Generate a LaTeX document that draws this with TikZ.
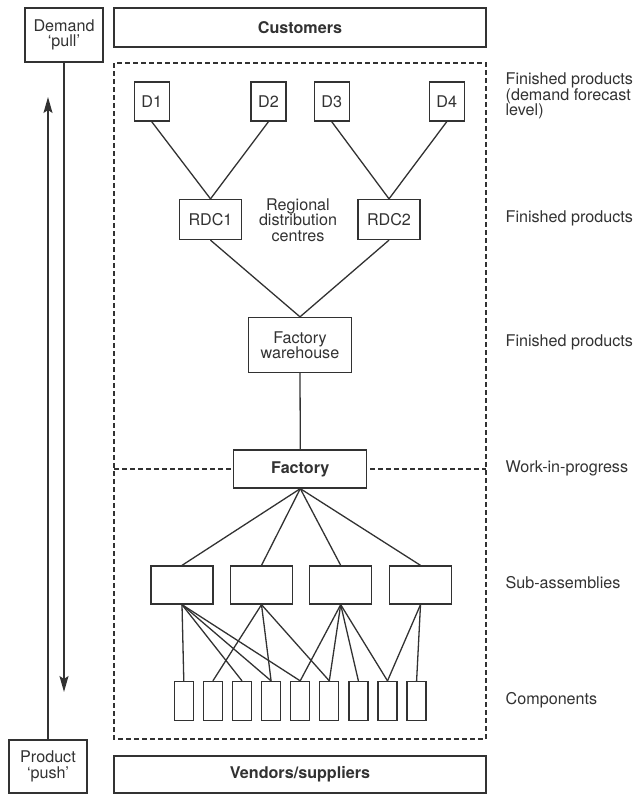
\documentclass[tikz,border=0pt]{standalone}
\usepackage{fontspec}
\setmainfont{TeX Gyre Heros}
\usetikzlibrary{arrows.meta}
\definecolor{mygrey}{RGB}{50,50,50}
\newcommand{\tightfont}{\fontsize{8.1}{7.7}\selectfont\lineskiplimit=-4pt\relax}

\begin{document}
\begin{tikzpicture}[x=0.5bp, y=-0.5bp, line width=0.65bp, color=mygrey,
	font=\tightfont,
	box/.style={draw, fill=white, inner sep=0pt, align=center},
	dbox/.style={box, minimum width=17.5bp, minimum height=19.5bp},
	rdc/.style={box, minimum width=31bp, minimum height=20bp},
	sub/.style={box, minimum width=31bp, minimum height=19bp},
	comp/.style={box, minimum width=9.5bp, minimum height=19.5bp},
	level/.style={anchor=west, align=left, inner sep=0pt},
	push arrow/.style={-{Stealth[length=8bp, width=4.5bp, inset=1.5bp]}}]

\useasboundingbox (0,0) rectangle (639,794);

%---------DASHED FRAME-----------%
\draw [dash pattern=on 2.5bp off 1.5bp] (114,63) rectangle (486,739);
\draw [dash pattern=on 2.5bp off 1.5bp] (114,469) -- (486,469);

%---------OUTER BOXES-----------%
\node [box, minimum width=39bp, minimum height=27bp] (pull) at (64,35) {Demand\\`pull'};
\node [box, minimum width=39bp, minimum height=26.5bp] (push) at (48,766.5) {Product\\`push'};
\node [box, minimum width=186bp, minimum height=19.5bp] (cust) at (300,27.5) {\bfseries Customers};
\node [box, minimum width=186bp, minimum height=18.5bp] (vend) at (300,774.5) {\bfseries Vendors/suppliers};

\coordinate (dtip) at (64,692);
\coordinate (utip) at (48,97);
\draw [push arrow] (pull.south) -- (dtip);
\draw [push arrow] (push.north) -- (utip);

%---------DISTRIBUTION-----------%
\foreach \x/\n in {151.7/1, 268.5/2, 331.7/3, 446.8/4}{
	\node [dbox] (D\n) at (\x,101.5) {D\n};
};
\node [rdc] (RDC1) at (210.5,219.5) {RDC1};
\node [rdc] (RDC2) at (389,219.5) {RDC2};
\node [align=center, inner sep=0pt] (reg) at (298,220) {Regional\\distribution\\centres};

\node [box, minimum width=51.5bp, minimum height=27.5bp] (fw) at (300,345) {Factory\\warehouse};
\node [box, minimum width=66.5bp, minimum height=19bp] (fac) at (300.3,469) {\bfseries Factory};

%---------SUB-ASSEMBLIES AND COMPONENTS-----------%
\foreach \x/\n in {182/1, 261.5/2, 340.7/3, 420.5/4}{
	\node [sub] (s\n) at (\x,585) {};
};
\foreach \n in {1,...,9}{
	\node [comp] (c\n) at ({183.8+29.1*(\n-1)},701) {};
};

%----------LINKS-------------%
\foreach \x/\y in {D1/RDC1, D2/RDC1, D3/RDC2, D4/RDC2, RDC1/fw, RDC2/fw, fw/fac}{
	\draw (\x.south) -- (\y.north);
};
\foreach \x in {1,...,4}{
	\draw (fac.south) -- (s\x.north);
};
\foreach \x/\y in {1/1,1/3,1/4,1/5,2/2,2/4,2/6,3/5,3/6,3/7,3/8,4/8,4/9}{
	\draw (s\x.south) -- (c\y.north);
};

%--------LEVELS-----------%
\node [level] (l1) at (505,96) {Finished products\\(demand forecast\\level)};
\node [level] (l2) at (505,218) {Finished products};
\node [level] (l3) at (505,342) {Finished products};
\node [level] (l4) at (505,468) {Work-in-progress};
\node [level] (l5) at (505,583) {Sub-assemblies};
\node [level] (l6) at (505,700) {Components};

\end{tikzpicture}
\end{document}
